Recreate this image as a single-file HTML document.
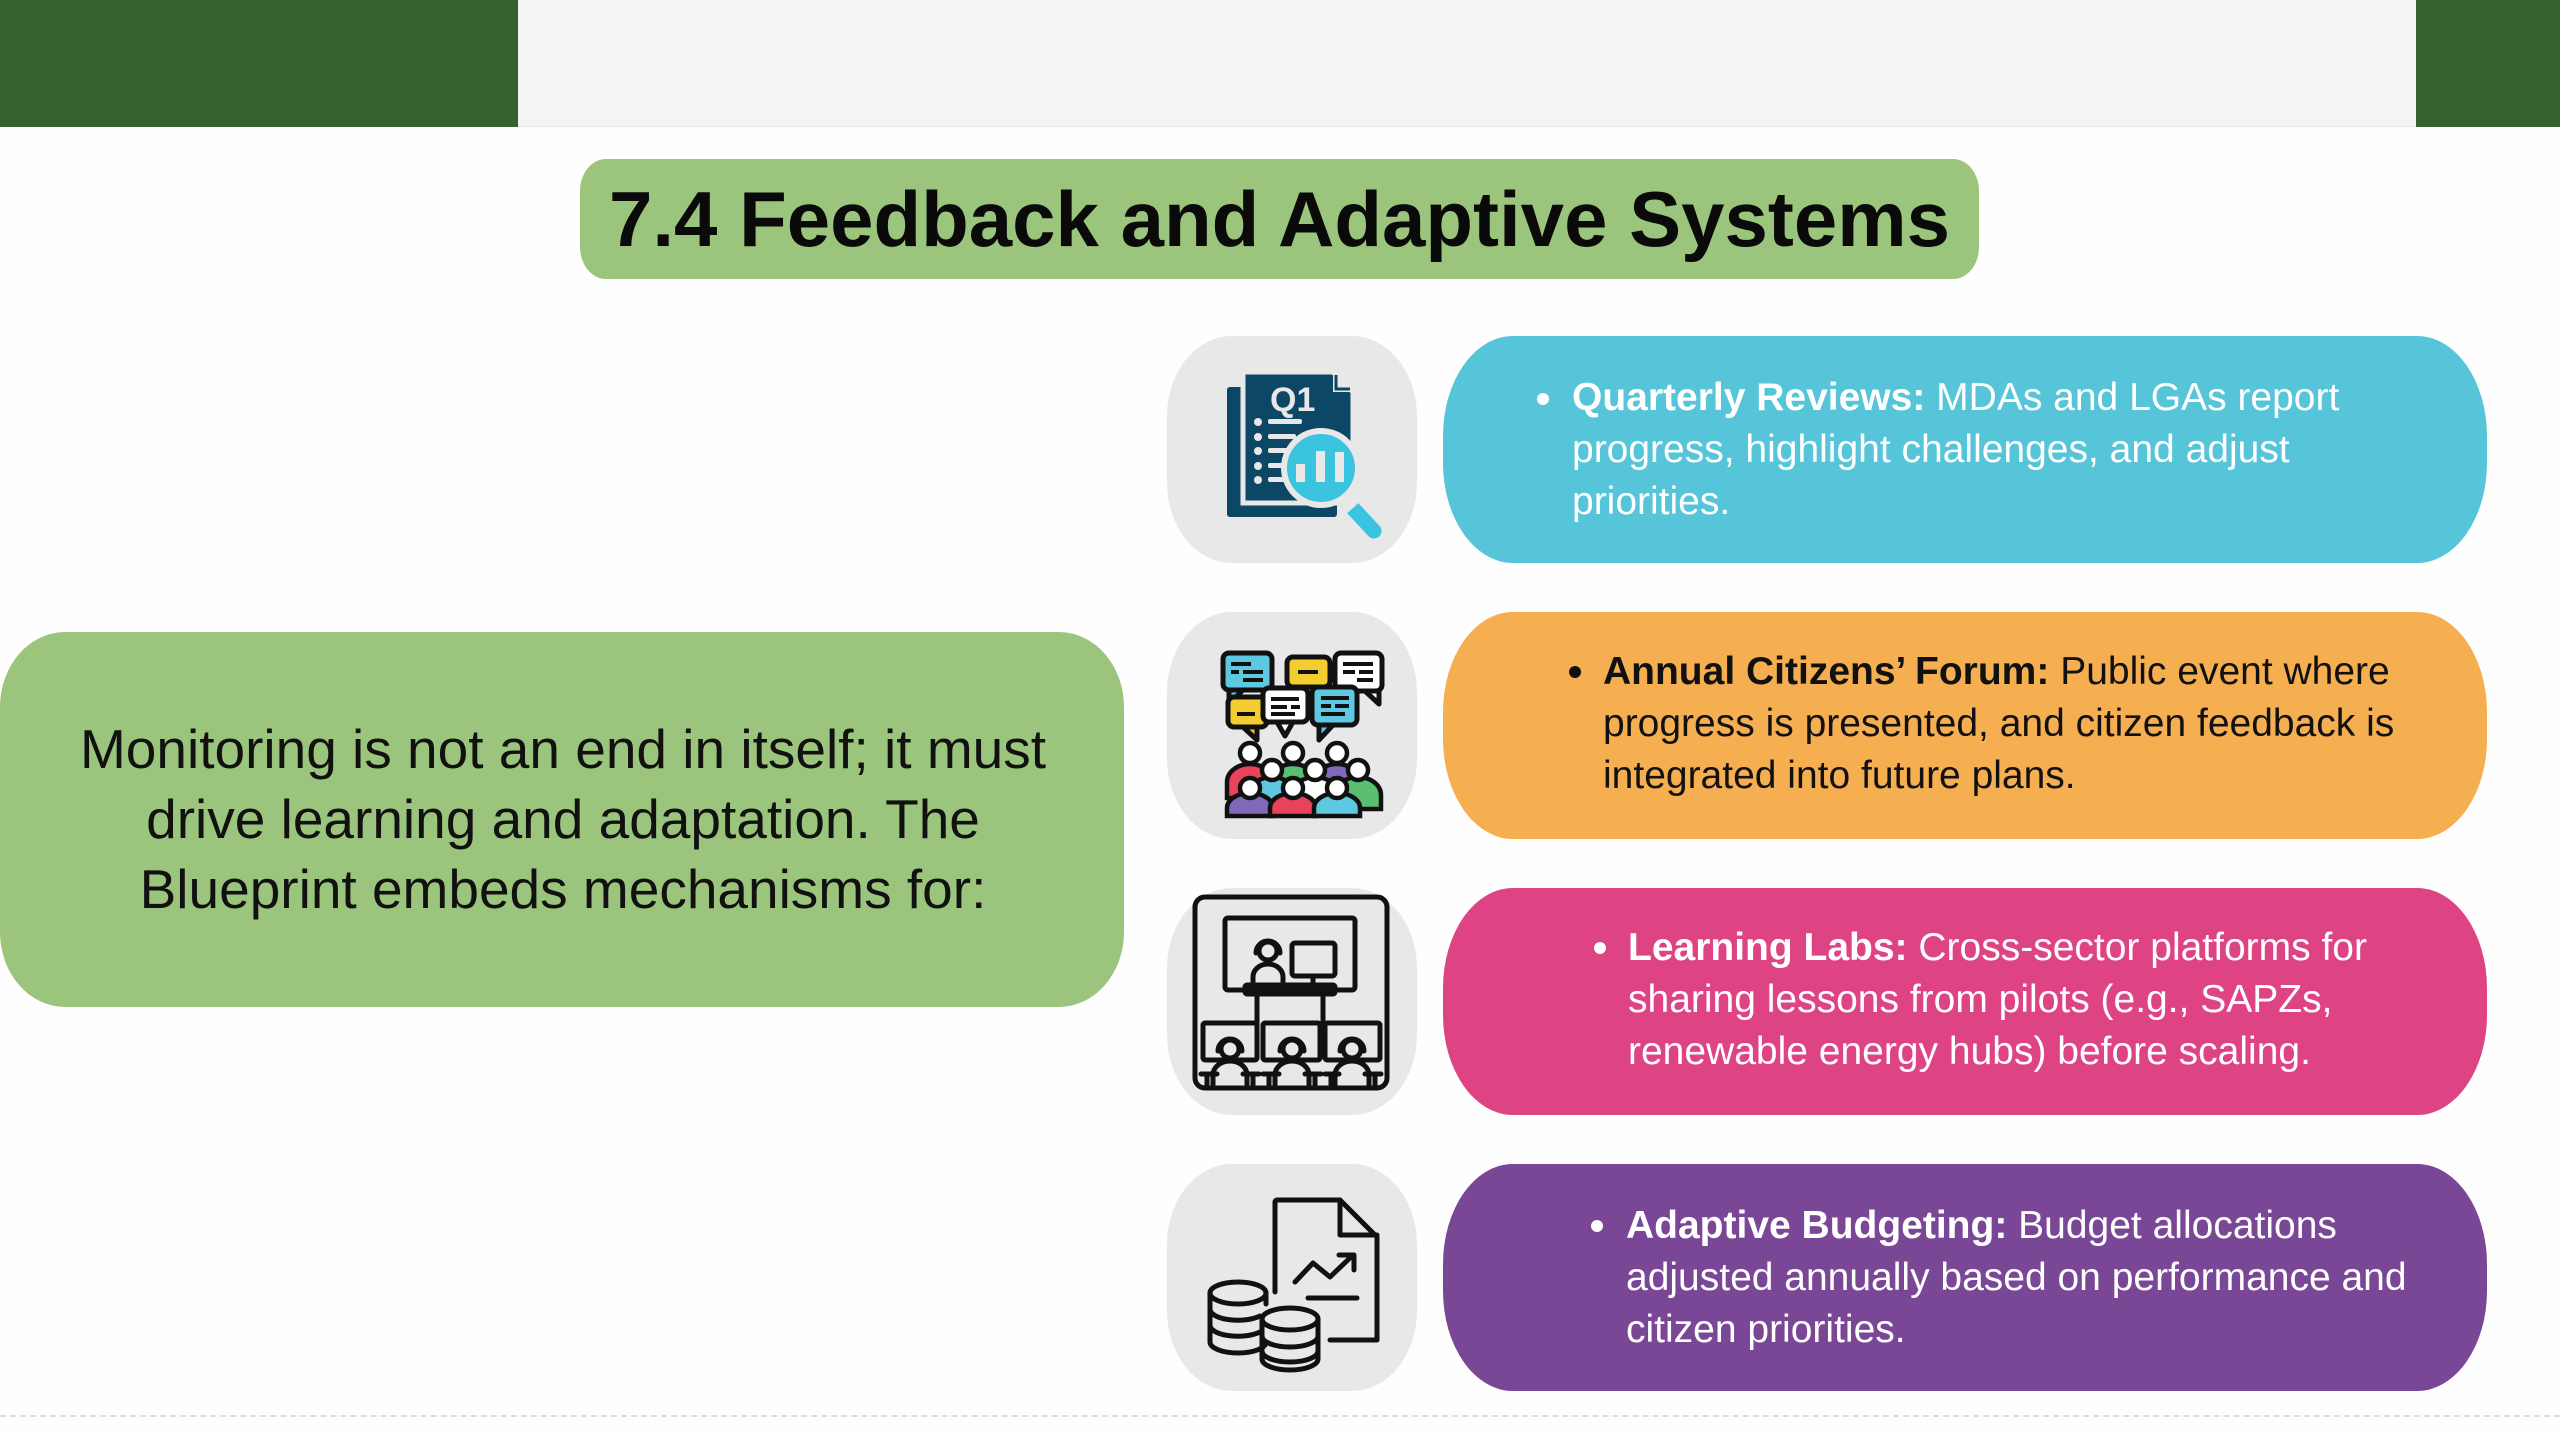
<!DOCTYPE html>
<html><head><meta charset="utf-8">
<style>
html,body{margin:0;padding:0;}
body{width:2560px;height:1434px;position:relative;background:#fefefe;overflow:hidden;font-family:"Liberation Sans",Arial,sans-serif;}
.abs{position:absolute;}
.ibox{position:absolute;left:1167px;width:250px;height:227px;background:#e8e8e8;border-radius:65px/80px;}
.ibox svg{position:absolute;left:0;top:0;}
.pill{position:absolute;left:1443px;width:1044px;height:227px;border-radius:70px/100px;}
.txt{position:absolute;font-size:39px;line-height:52px;white-space:nowrap;}
.dot{position:absolute;width:12px;height:12px;border-radius:50%;}
</style></head>
<body>
<!-- top bar -->
<div class="abs" style="left:0;top:0;width:518px;height:127px;background:#386130;"></div>
<div class="abs" style="left:518px;top:0;width:1898px;height:126px;background:#f4f4f4;border-bottom:1px solid #e4e4e4;"></div>
<div class="abs" style="left:2416px;top:0;width:144px;height:127px;background:#386130;"></div>

<!-- title -->
<div class="abs" style="left:580px;top:159px;width:1399px;height:120px;background:#9bc57c;border-radius:26px/32px;display:flex;align-items:center;justify-content:center;">
<span style="font-weight:bold;font-size:78px;color:#0a0a0a;white-space:nowrap;line-height:1;">7.4 Feedback and Adaptive Systems</span>
</div>

<!-- left green box -->
<div class="abs" style="left:0;top:632px;width:1124px;height:375px;background:#9bc57c;border-radius:65px/75px;"></div>
<div class="abs" style="left:0;top:714px;width:1126px;text-align:center;font-size:55px;line-height:70px;color:#111;">Monitoring is not an end in itself; it must<br>drive learning and adaptation. The<br>Blueprint embeds mechanisms for:</div>

<!-- icon boxes -->
<div class="ibox" style="top:336px;">
<svg width="250" height="227" viewBox="0 0 250 227">
<rect x="60" y="51" width="110" height="130" rx="3" fill="#0c4766"/>
<path d="M76 36 H166 L186 56 V167 H76 Z" fill="#0c4766" stroke="#e8e8e8" stroke-width="5"/>
<path d="M166 36 V56 H186 Z" fill="#e8e8e8"/>
<path d="M169 39 V53 H183" fill="none" stroke="#0c4766" stroke-width="3"/>
<text x="103" y="75" font-family="Liberation Sans, sans-serif" font-weight="bold" font-size="34" fill="#e8e8e8">Q1</text>
<g fill="#e8e8e8">
<circle cx="91" cy="86" r="4"/><circle cx="91" cy="101" r="4"/><circle cx="91" cy="115" r="4"/><circle cx="91" cy="130" r="4"/><circle cx="91" cy="144" r="4"/>
<rect x="101" y="83" width="34" height="5" rx="2"/><rect x="101" y="98" width="28" height="5" rx="2"/><rect x="101" y="112" width="20" height="5" rx="2"/><rect x="101" y="127" width="16" height="5" rx="2"/><rect x="101" y="141" width="18" height="5" rx="2"/>
</g>
<line x1="180" y1="166" x2="207" y2="195" stroke="#3bc4e0" stroke-width="15" stroke-linecap="round"/>
<line x1="178" y1="163" x2="186" y2="172" stroke="#e8e8e8" stroke-width="16"/>
<circle cx="154" cy="132" r="37" fill="#3bc4e0" stroke="#e8e8e8" stroke-width="6"/>
<g fill="#e8e8e8">
<rect x="129" y="128" width="9" height="18"/><rect x="149" y="115" width="9" height="31"/><rect x="168" y="116" width="9" height="30"/>
</g>
</svg>
</div>

<div class="ibox" style="top:612px;">
<svg width="250" height="227" viewBox="0 0 250 227">
<g stroke="#111" stroke-width="5" stroke-linejoin="round">
<path d="M62 78 L62 92 L76 78 Z" fill="#5ec8e0"/>
<rect x="56" y="41" width="49" height="37" rx="6" fill="#5ec8e0"/>
<rect x="120" y="45" width="43" height="30" rx="6" fill="#f2cd30"/>
<path d="M198 79 L212 92 L212 79 Z" fill="#fff"/>
<rect x="168" y="41" width="47" height="38" rx="6" fill="#fff"/>
<path d="M76 115 L90 128 L90 115 Z" fill="#f2cd30"/>
<rect x="61" y="85" width="39" height="30" rx="6" fill="#f2cd30"/>
<path d="M110 110 L118 124 L126 110 Z" fill="#fff"/>
<rect x="96" y="76" width="45" height="34" rx="6" fill="#fff"/>
<path d="M152 113 L152 128 L166 113 Z" fill="#5ec8e0"/>
<rect x="145" y="75" width="45" height="38" rx="6" fill="#5ec8e0"/>
</g>
<g fill="#111">
<rect x="64" y="50" width="20" height="4"/><rect x="64" y="58" width="8" height="4"/><rect x="76" y="58" width="20" height="4"/><rect x="76" y="66" width="20" height="4"/>
<rect x="131" y="58" width="20" height="4"/>
<rect x="176" y="50" width="30" height="4"/><rect x="176" y="58" width="12" height="4"/><rect x="192" y="58" width="14" height="4"/><rect x="190" y="66" width="16" height="4"/>
<rect x="70" y="100" width="18" height="4"/>
<rect x="104" y="85" width="28" height="4"/><rect x="104" y="93" width="16" height="4"/><rect x="124" y="93" width="9" height="4"/><rect x="104" y="100" width="24" height="4"/>
<rect x="154" y="84" width="28" height="4"/><rect x="154" y="92" width="10" height="4"/><rect x="168" y="92" width="14" height="4"/><rect x="154" y="100" width="24" height="4"/>
</g>
<g stroke="#111" stroke-width="4.5">
<path d="M60 186 v-16 a23 18 0 0 1 46 0 v16 z" fill="#e8435a"/>
<path d="M103 186 v-16 a23 18 0 0 1 46 0 v16 z" fill="#5bbf72"/>
<path d="M147 186 v-16 a23 18 0 0 1 46 0 v16 z" fill="#8069b8"/>
<circle cx="83" cy="141" r="10" fill="#fff"/><circle cx="126" cy="141" r="10" fill="#fff"/><circle cx="170" cy="141" r="10" fill="#fff"/>
<path d="M82 197 v-14 a23 18 0 0 1 46 0 v14 z" fill="#5ec8e0"/>
<path d="M125 197 v-14 a23 18 0 0 1 46 0 v14 z" fill="#fff"/>
<path d="M168 197 v-14 a23 18 0 0 1 46 0 v14 z" fill="#5bbf72"/>
<circle cx="105" cy="158" r="10" fill="#fff"/><circle cx="148" cy="158" r="10" fill="#fff"/><circle cx="191" cy="158" r="10" fill="#fff"/>
<path d="M60 204 v-8 a23 15 0 0 1 46 0 v8 z" fill="#8069b8"/>
<path d="M103 204 v-8 a23 15 0 0 1 46 0 v8 z" fill="#e8435a"/>
<path d="M147 204 v-8 a23 15 0 0 1 46 0 v8 z" fill="#5ec8e0"/>
<circle cx="83" cy="176" r="10" fill="#fff"/><circle cx="126" cy="176" r="10" fill="#fff"/><circle cx="170" cy="176" r="10" fill="#fff"/>
</g>
</svg>
</div>

<div class="ibox" style="top:888px;">
<svg width="250" height="227" viewBox="0 0 250 227">
<g fill="none" stroke="#111" stroke-width="5" stroke-linejoin="round" stroke-linecap="round">
<rect x="28" y="9" width="192" height="191" rx="10"/>
<rect x="58" y="30" width="130" height="72" rx="3"/>
<circle cx="101" cy="63" r="9"/>
<path d="M89 65 a12 12 0 0 1 24 0"/>
<path d="M86 97 v-8 a15 13 0 0 1 30 0 v8"/>
<rect x="125" y="55" width="43" height="33" rx="3"/>
<line x1="146" y1="88" x2="146" y2="97"/>
<rect x="78" y="97" width="90" height="9" rx="2"/>
<line x1="90" y1="106" x2="90" y2="135"/><line x1="156" y1="106" x2="156" y2="135"/>
<rect x="36" y="135" width="54" height="37" rx="2"/>
<rect x="96" y="135" width="57" height="37" rx="2"/>
<rect x="158" y="135" width="55" height="37" rx="2"/>
<circle cx="63" cy="161" r="9"/><circle cx="125" cy="161" r="9"/><circle cx="185" cy="161" r="9"/>
<path d="M51 163 a12 12 0 0 1 24 0"/><path d="M113 163 a12 12 0 0 1 24 0"/><path d="M173 163 a12 12 0 0 1 24 0"/>
<path d="M46 197 v-10 a17 14 0 0 1 34 0 v10"/>
<path d="M108 197 v-10 a17 14 0 0 1 34 0 v10"/>
<path d="M168 197 v-10 a17 14 0 0 1 34 0 v10"/>
<line x1="34" y1="186" x2="50" y2="186"/><line x1="76" y1="186" x2="92" y2="186"/>
<line x1="96" y1="186" x2="112" y2="186"/><line x1="138" y1="186" x2="154" y2="186"/>
<line x1="158" y1="186" x2="172" y2="186"/><line x1="198" y1="186" x2="214" y2="186"/>
<line x1="40" y1="186" x2="40" y2="198"/><line x1="86" y1="186" x2="86" y2="198"/>
<line x1="102" y1="186" x2="102" y2="198"/><line x1="148" y1="186" x2="148" y2="198"/>
<line x1="164" y1="186" x2="164" y2="198"/><line x1="208" y1="186" x2="208" y2="198"/>
</g>
</svg>
</div>

<div class="ibox" style="top:1164px;">
<svg width="250" height="227" viewBox="0 0 250 227">
<g fill="none" stroke="#111" stroke-width="5" stroke-linejoin="round" stroke-linecap="round">
<path d="M108 128 V38 a2 2 0 0 1 2 -2 H173 L210 73 V176 H163"/>
<path d="M173 36 V71 H210"/>
<line x1="210" y1="82" x2="210" y2="176"/>
<path d="M128 118 L146 99 L163 113 L186 91"/>
<path d="M172 91 H187 V106"/>
<line x1="141" y1="134" x2="190" y2="134"/>
<ellipse cx="71" cy="129" rx="28" ry="11"/>
<path d="M43 129 V178 a28 11 0 0 0 56 0"/>
<path d="M99 129 V140"/>
<path d="M43 146 a28 11 0 0 0 50 6"/>
<path d="M43 162 a28 11 0 0 0 50 6"/>
<ellipse cx="123" cy="155" rx="28" ry="11"/>
<path d="M95 155 V195 a28 11 0 0 0 56 0 V155"/>
<path d="M95 172 a28 11 0 0 0 56 0"/>
<path d="M95 187 a28 11 0 0 0 56 0"/>
</g>
</svg>
</div>

<!-- colored pills -->
<div class="pill" style="top:336px;background:#56c5d9;"></div>
<div class="dot" style="left:1537px;top:393px;background:#fff;"></div>
<div class="txt" style="left:1572px;top:372px;color:#fff;"><b>Quarterly Reviews:</b> MDAs and LGAs report<br>progress, highlight challenges, and adjust<br>priorities.</div>

<div class="pill" style="top:612px;background:#f5ae50;"></div>
<div class="dot" style="left:1569px;top:666px;background:#111;"></div>
<div class="txt" style="left:1603px;top:646px;color:#111;"><b>Annual Citizens’ Forum:</b> Public event where<br>progress is presented, and citizen feedback is<br>integrated into future plans.</div>

<div class="pill" style="top:888px;background:#de4483;"></div>
<div class="dot" style="left:1594px;top:942px;background:#fff;"></div>
<div class="txt" style="left:1628px;top:922px;color:#fff;"><b>Learning Labs:</b> Cross-sector platforms for<br>sharing lessons from pilots (e.g., SAPZs,<br>renewable energy hubs) before scaling.</div>

<div class="pill" style="top:1164px;background:#794796;"></div>
<div class="dot" style="left:1591px;top:1220px;background:#fff;"></div>
<div class="txt" style="left:1626px;top:1200px;color:#fff;"><b>Adaptive Budgeting:</b> Budget allocations<br>adjusted annually based on performance and<br>citizen priorities.</div>

<!-- bottom dashed line -->
<div class="abs" style="left:0;top:1415px;width:2560px;height:0;border-top:2px dashed #dcdce4;"></div>
</body></html>
